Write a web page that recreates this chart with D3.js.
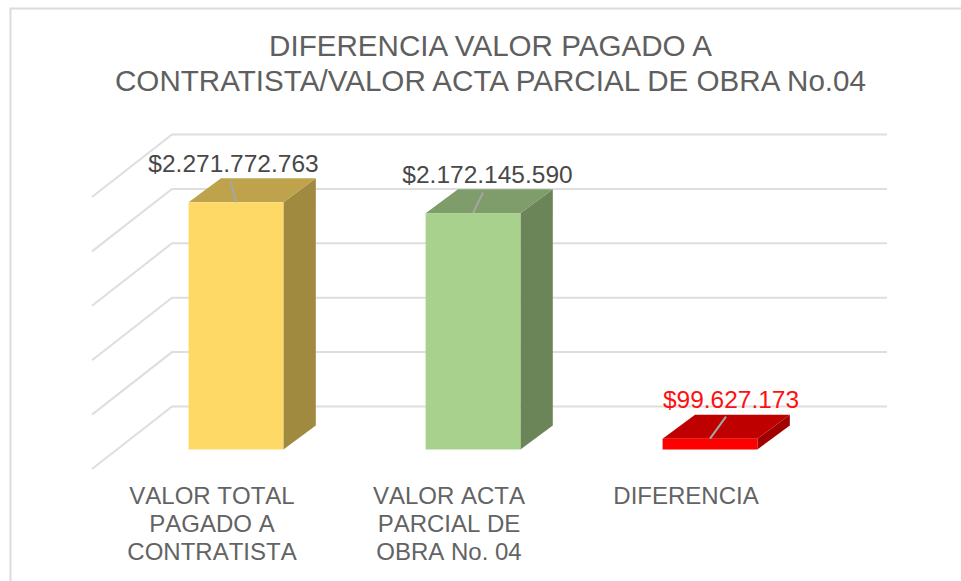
<!DOCTYPE html>
<html>
<head>
<meta charset="utf-8">
<script src="https://cdn.jsdelivr.net/npm/d3@7"></script>
<style>
body { margin: 0; background: #fff; }
text { font-family: "Liberation Sans", Arial, sans-serif; }
.nokern { font-kerning: none; }
</style>
</head>
<body>
<svg id="graph1"></svg>
<script>
var categories = ["VALOR TOTAL PAGADO A CONTRATISTA", "VALOR ACTA PARCIAL DE OBRA No. 04", "DIFERENCIA"];
var categoryLines = [["VALOR TOTAL", "PAGADO A", "CONTRATISTA"], ["VALOR ACTA", "PARCIAL DE", "OBRA No. 04"], ["DIFERENCIA"]];
var values = [2271772763, 2172145590, 99627173];
var valueLabels = ["$2.271.772.763", "$2.172.145.590", "$99.627.173"];
var titleLines = ["DIFERENCIA VALOR PAGADO A", "CONTRATISTA/VALOR ACTA PARCIAL DE OBRA No.04"];
var axisMax = 2500000000;
var frontColors = ["#ffd966", "#a9d18e", "#ff0000"];
var topColors = ["#bfa34c", "#7f9d6a", "#bf0000"];
var sideColors = ["#a08a40", "#6b8559", "#a00000"];
var labelColors = ["#484848", "#484848", "#ff1010"];

var screen = {width: 961, height: 581};

var svg = d3.select("#graph1")
    .attr("width", screen.width)
    .attr("height", screen.height)
    .style("display", "block");

// chart frame, only top and left show
svg.append("path")
    .attr("d", "M10.5,581 V8.5 H961")
    .attr("fill", "none")
    .attr("stroke", "#dcdcdc")
    .attr("stroke-width", 2);

// the wall is at depth 0, the front of the floor at depth 1
var wall = {left: 172, right: 887};
var depth = {dx: -80, dy: 62.5};
var barDepth = {dx: 32.4, dy: -24};

var yScale = d3.scaleLinear()
    .domain([0, axisMax])
    .range([406.5, 134.5]);

var xScale = d3.scaleBand()
    .domain(categories)
    .range([117.5, 828.5])
    .paddingInner(0.6)
    .paddingOuter(0.3);

var barBase = 449.5;
var barHeight = function (v) { return yScale(0) - yScale(v); };

var grid = svg.append("g");
yScale.ticks(5).forEach(function (t) {
    var y = yScale(t);
    grid.append("path")
        .attr("d", "M" + (wall.left + depth.dx) + "," + (y + depth.dy) + " L" + wall.left + "," + y + " H" + wall.right)
        .attr("fill", "none")
        .attr("stroke", "#dedede")
        .attr("stroke-width", 2);
});

var bars = svg.append("g").selectAll("g")
    .data(values)
    .enter()
    .append("g");

bars.append("path")
    .attr("fill", function (d, i) { return sideColors[i]; })
    .attr("d", function (d, i) {
        var x = xScale(categories[i]) + xScale.bandwidth();
        var top = barBase - barHeight(d);
        return "M" + x + "," + top + " l" + barDepth.dx + "," + barDepth.dy + " V" + (barBase + barDepth.dy) + " L" + x + "," + barBase + "Z";
    });

bars.append("path")
    .attr("fill", function (d, i) { return topColors[i]; })
    .attr("d", function (d, i) {
        var x = xScale(categories[i]);
        var top = barBase - barHeight(d);
        return "M" + x + "," + top + " l" + barDepth.dx + "," + barDepth.dy + " h" + xScale.bandwidth() + " l" + (-barDepth.dx) + "," + (-barDepth.dy) + "Z";
    });

bars.append("rect")
    .attr("x", function (d, i) { return xScale(categories[i]); })
    .attr("y", function (d) { return barBase - barHeight(d); })
    .attr("width", xScale.bandwidth())
    .attr("height", function (d) { return barHeight(d); })
    .attr("fill", function (d, i) { return frontColors[i]; });

// leader lines from the labels to the bar tops
var leaders = [[-5.5, 21], [10, 20.5], [16, 22]];
bars.append("line")
    .attr("x1", function (d, i) { return xScale(categories[i]) + xScale.bandwidth() / 2; })
    .attr("y1", function (d) { return barBase - barHeight(d); })
    .attr("x2", function (d, i) { return xScale(categories[i]) + xScale.bandwidth() / 2 + leaders[i][0]; })
    .attr("y2", function (d, i) { return barBase - barHeight(d) - leaders[i][1]; })
    .attr("stroke", "#a6a6a6")
    .attr("stroke-width", 2);

var labelX = [233.5, 487.5, 731];
var labelY = [172, 183, 408];
svg.append("g").selectAll("text")
    .data(valueLabels)
    .enter()
    .append("text")
    .attr("x", function (d, i) { return labelX[i]; })
    .attr("y", function (d, i) { return labelY[i]; })
    .attr("text-anchor", "middle")
    .attr("font-size", 24.5)
    .attr("fill", function (d, i) { return labelColors[i]; })
    .text(function (d) { return d; });

var titleY = [56, 91];
svg.append("g").selectAll("text")
    .data(titleLines)
    .enter()
    .append("text")
    .attr("x", 490.5)
    .attr("y", function (d, i) { return titleY[i]; })
    .attr("text-anchor", "middle")
    .attr("font-size", 29.6)
    .attr("fill", "#5f5f5f")
    .text(function (d) { return d; });

var catX = [212, 449, 686];
categoryLines.forEach(function (lines, i) {
    svg.append("text")
        .attr("class", "nokern")
        .attr("font-size", 24)
        .attr("fill", "#636363")
        .attr("text-anchor", "middle")
        .selectAll("tspan")
        .data(lines)
        .enter()
        .append("tspan")
        .attr("x", catX[i])
        .attr("y", function (d, j) { return 504 + j * 28; })
        .text(function (d) { return d; });
});
</script>
</body>
</html>
